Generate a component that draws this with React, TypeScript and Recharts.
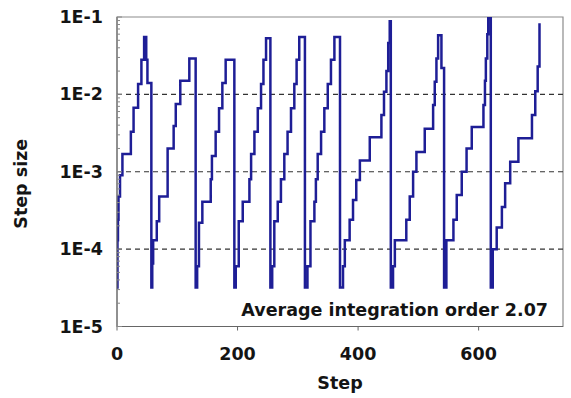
import { LineChart, Line, XAxis, YAxis, ReferenceLine, ReferenceArea } from "recharts";

// step number where the step size changes, and the new step size
const steps = [
  0, 0.8, 1.6, 2.5, 5, 9, 23, 27.5, 35, 40.5, 45, 48.5, 50.5,
  57, 58.5, 60, 66, 70, 84, 94, 97.5, 105, 120,
  130.5, 133, 136, 141.6, 155.5, 157.5, 163.7, 169.3, 174.8, 180.3,
  194.7, 197, 202, 208.6, 219.7, 222.5, 228, 233.6, 239, 243, 247.3,
  254.5, 257.5, 261, 266.7, 272, 277.6, 283, 288.7, 294.2, 298, 302.4,
  311.8, 316, 321, 327.5, 330, 333, 338.6, 344, 349.7, 355, 360.7,
  370, 375, 378, 386, 391.6, 397, 403, 419.4, 438.7, 443, 447, 450, 452.5,
  454.3, 458, 461, 480, 485.7, 491.3, 496.8, 510.6, 524.5, 527.2, 530, 532.8, 538.3,
  542.7, 546.5, 558.2, 563.7, 572, 580, 588.6, 608, 610.5, 612, 614.4, 616,
  620.2, 623.4, 630, 638.6, 644, 652.4, 666, 688.5, 694, 698, 701,
];

const sizes = [
  3.2e-5, 1.3e-4, 2.4e-4, 4.8e-4, 9e-4, 1.7e-3, 3.3e-3, 6.7e-3, 1.36e-2, 2.8e-2, 5.5e-2, 2.8e-2, 1.4e-2,
  3.2e-5, 6.5e-5, 1.3e-4, 2.3e-4, 4.8e-4, 2e-3, 3.9e-3, 7.5e-3, 1.5e-2, 2.9e-2,
  3.2e-5, 6e-5, 2.2e-4, 4.1e-4, 8e-4, 1.6e-3, 3.3e-3, 6.6e-3, 1.4e-2, 2.8e-2,
  3.2e-5, 6e-5, 2.3e-4, 4.1e-4, 8e-4, 1.7e-3, 3.3e-3, 6.6e-3, 1.36e-2, 2.8e-2, 5.3e-2,
  3.2e-5, 6e-5, 2.3e-4, 4.1e-4, 8e-4, 1.7e-3, 3.3e-3, 6.6e-3, 1.36e-2, 2.8e-2, 5.5e-2,
  3.2e-5, 6e-5, 2.3e-4, 4.1e-4, 8e-4, 1.7e-3, 3.3e-3, 6.6e-3, 1.36e-2, 2.8e-2, 5.5e-2,
  3.2e-5, 6e-5, 1.3e-4, 2.4e-4, 4.3e-4, 7.8e-4, 1.4e-3, 2.8e-3, 5.4e-3, 1.08e-2, 2e-2, 4.6e-2, 8.8e-2,
  3.2e-5, 6e-5, 1.3e-4, 2.4e-4, 4.8e-4, 1e-3, 1.8e-3, 3.6e-3, 7.3e-3, 1.46e-2, 2.9e-2, 5.8e-2, 2.2e-2,
  3.2e-5, 1.3e-4, 2.4e-4, 5e-4, 1e-3, 2e-3, 3.8e-3, 7.3e-3, 1.5e-2, 2.9e-2, 6e-2, 1e-1,
  3.2e-5, 1e-4, 1.9e-4, 3.5e-4, 7.1e-4, 1.35e-3, 2.7e-3, 5.4e-3, 1.1e-2, 2.3e-2, 8.3e-2,
];

const xTicks = [0, 200, 400, 600];
const yDecades = [1e-5, 1e-4, 1e-3, 1e-2, 1e-1];
const yTickLabels = ["1E-5", "1E-4", "1E-3", "1E-2", "1E-1"];
const minorFactors = [2, 3, 4, 5, 6, 7, 8, 9];
const gridLevels = [1e-4, 1e-3, 1e-2];
const note = "Average integration order 2.07";

const data = steps.map((step, i) => ({ step, size: sizes[i] }));
const yTicks = [
  ...yDecades,
  ...yDecades.slice(0, -1).flatMap((d) => minorFactors.map((f) => d * f)),
].sort((a, b) => a - b);

const FONT = '"DejaVu Sans", Verdana, sans-serif';
const INK = "#141414";

function YTick(props: any) {
  const { x, y, payload } = props;
  const i = yDecades.findIndex((d) => Math.abs(d - payload.value) / d < 1e-6);
  const major = i >= 0;
  return (
    <g>
      <line x1={x} x2={x + (major ? 5 : 3)} y1={y} y2={y} stroke="#888" />
      {major && (
        <text
          x={x - 14}
          y={y}
          textAnchor="end"
          dominantBaseline="central"
          fontFamily={FONT}
          fontWeight="bold"
          fontSize={17.5}
          fill={INK}
        >
          {yTickLabels[i]}
        </text>
      )}
    </g>
  );
}

export default function App() {
  return (
    <div style={{ position: "absolute", left: 0, top: 0, width: 571, height: 398, background: "#fff" }}>
      <LineChart width={571} height={398} data={data} margin={{ top: 17, right: 8, left: 0, bottom: 0 }}>
        <ReferenceArea x1={0} x2={740} y1={1e-5} y2={1e-1} fill="none" stroke="#8c8c8c" strokeWidth={1.2} />
        {gridLevels.map((v) => (
          <ReferenceLine key={v} y={v} stroke="#333" strokeDasharray="5 4" strokeWidth={1.2} />
        ))}
        <XAxis
          dataKey="step"
          type="number"
          domain={[0, 740]}
          allowDataOverflow
          ticks={xTicks}
          interval={0}
          height={71.5}
          tickSize={4}
          tickMargin={17}
          stroke="#666"
          tick={{ fontFamily: FONT, fontWeight: "bold", fontSize: 17.5, fill: INK }}
          label={{
            value: "Step",
            position: "insideBottom",
            offset: 9,
            style: { fontFamily: FONT, fontWeight: "bold", fontSize: 17.5, fill: INK },
          }}
        />
        <YAxis
          dataKey="size"
          scale="log"
          domain={[1e-5, 1e-1]}
          allowDataOverflow
          ticks={yTicks}
          interval={0}
          width={117}
          tickSize={0}
          tickMargin={0}
          tickLine={false}
          stroke="#666"
          tick={<YTick />}
          label={{
            content: (p: any) => {
              const vb = p.viewBox || { x: 0, y: 17, width: 117, height: 309.5 };
              const cx = vb.x + 21;
              const cy = vb.y + vb.height / 2 + 12;
              return (
                <text
                  x={cx}
                  y={cy}
                  transform={`rotate(-90 ${cx} ${cy})`}
                  textAnchor="middle"
                  dominantBaseline="central"
                  fontFamily={FONT}
                  fontWeight="bold"
                  fontSize={17.5}
                  fill={INK}
                >
                  Step size
                </text>
              );
            },
          }}
        />
        <Line
          dataKey="size"
          type="stepAfter"
          stroke="#1e1e96"
          strokeWidth={2.5}
          dot={false}
          isAnimationActive={false}
        />
      </LineChart>
      <div
        style={{
          position: "absolute",
          right: 23,
          top: 300,
          lineHeight: "20px",
          fontFamily: FONT,
          fontWeight: "bold",
          fontSize: 17.5,
          color: INK,
          whiteSpace: "nowrap",
        }}
      >
        {note}
      </div>
    </div>
  );
}
